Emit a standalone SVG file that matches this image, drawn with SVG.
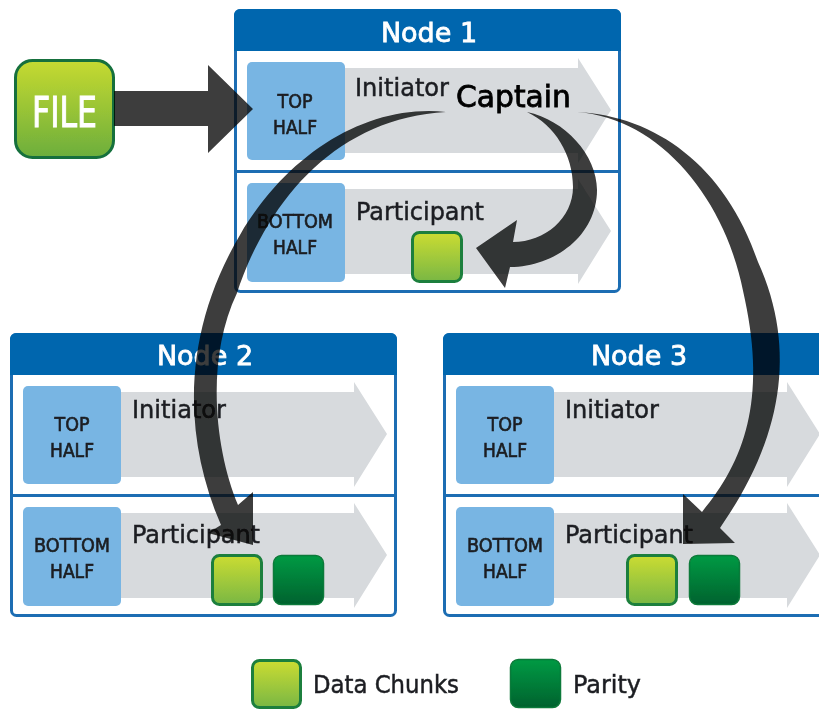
<svg xmlns="http://www.w3.org/2000/svg" width="819" height="709" viewBox="0 0 819 709">
<style>
text{font-family:"DejaVu Sans","Liberation Sans",sans-serif;fill:#1c1f22}
.title{font-size:27px;fill:#fff;stroke:#fff;stroke-width:.8;text-anchor:middle}
.half{font-size:20px;stroke:#1c1f22;stroke-width:.7;text-anchor:middle}
.role{font-size:24px;stroke:#1c1f22;stroke-width:.5}
.frame{fill:#fff;stroke:#1a6db3;stroke-width:3}
.head{fill:#0066ae}
.div{stroke:#1a6db3;stroke-width:3}
.grey{fill:#d7dadd}
.blue{fill:#78b5e3}
.data{fill:url(#gData);stroke:#1a7f3c;stroke-width:3}
.parity{fill:url(#gParity);stroke:#0e7a3a;stroke-width:1.5}
.arc{fill:#3c3c3c;mix-blend-mode:multiply}
</style>
<defs>
<filter id="soft" x="0" y="0" width="100%" height="100%"><feGaussianBlur stdDeviation="0.5"/></filter>
<linearGradient id="gData" x1="0" y1="0" x2="0" y2="1"><stop offset="0" stop-color="#cbdc32"/><stop offset="1" stop-color="#79b744"/></linearGradient>
<linearGradient id="gParity" x1="0" y1="0" x2="0" y2="1"><stop offset="0" stop-color="#009a44"/><stop offset="1" stop-color="#00622e"/></linearGradient>
<linearGradient id="gFile" x1="0" y1="0" x2="0" y2="1"><stop offset="0" stop-color="#c6da30"/><stop offset="1" stop-color="#6cae3c"/></linearGradient>
<g id="shell">
<rect class="frame" x="235.500" y="10.500" width="384" height="281" rx="5"/>
<path class="head" d="M234,51V15a6,6 0 0 1 6,-6H615a6,6 0 0 1 6,6V51Z"/>
<line class="div" x1="235" y1="171.500" x2="620" y2="171.500"/>
<path class="grey" d="M340,68H578V58L611,110L578,163V153H340Z"/>
<path class="grey" d="M340,189H578V179L611,231L578,284V274H340Z"/>
<rect class="blue" x="247" y="62" width="98" height="98" rx="5"/>
<rect class="blue" x="247" y="183" width="98" height="99" rx="5"/>
</g>
</defs>
<g filter="url(#soft)">
<rect width="819" height="709" fill="#fff"/>
<g id="node1">
<use href="#shell"/>
<text class="title" x="429" y="42">Node 1</text>
<text class="half" x="295" y="108" textLength="35" lengthAdjust="spacingAndGlyphs">TOP</text>
<text class="half" x="295" y="134" textLength="44" lengthAdjust="spacingAndGlyphs">HALF</text>
<text class="half" x="295" y="228" textLength="76" lengthAdjust="spacingAndGlyphs">BOTTOM</text>
<text class="half" x="295" y="254" textLength="44" lengthAdjust="spacingAndGlyphs">HALF</text>
<text class="role" x="355" y="96" textLength="94" lengthAdjust="spacingAndGlyphs">Initiator</text>
<text class="role" x="356" y="220" textLength="128" lengthAdjust="spacingAndGlyphs">Participant</text>
<text x="456" y="107" font-size="30" stroke="#000" stroke-width=".8" style="fill:#000" textLength="115" lengthAdjust="spacingAndGlyphs">Captain</text>
<rect class="data" x="412.500" y="232.500" width="49" height="49" rx="7"/>
</g>
<g id="node2" transform="translate(-224 324)">
<use href="#shell"/>
<text class="title" x="429" y="41">Node 2</text>
<text class="half" x="296" y="107" textLength="35" lengthAdjust="spacingAndGlyphs">TOP</text>
<text class="half" x="296" y="133" textLength="44" lengthAdjust="spacingAndGlyphs">HALF</text>
<text class="half" x="296" y="228" textLength="76" lengthAdjust="spacingAndGlyphs">BOTTOM</text>
<text class="half" x="296" y="254" textLength="44" lengthAdjust="spacingAndGlyphs">HALF</text>
<text class="role" x="356" y="94" textLength="94" lengthAdjust="spacingAndGlyphs">Initiator</text>
<text class="role" x="356" y="219" textLength="128" lengthAdjust="spacingAndGlyphs">Participant</text>
<rect class="data" x="436.500" y="231.500" width="49" height="49" rx="7"/>
<rect class="parity" x="497.500" y="231.500" width="50" height="49" rx="8"/>
</g>
<g id="node3" transform="translate(209 324)">
<use href="#shell"/>
<text class="title" x="430" y="41">Node 3</text>
<text class="half" x="296" y="107" textLength="35" lengthAdjust="spacingAndGlyphs">TOP</text>
<text class="half" x="296" y="133" textLength="44" lengthAdjust="spacingAndGlyphs">HALF</text>
<text class="half" x="296" y="228" textLength="76" lengthAdjust="spacingAndGlyphs">BOTTOM</text>
<text class="half" x="296" y="254" textLength="44" lengthAdjust="spacingAndGlyphs">HALF</text>
<text class="role" x="356" y="94" textLength="94" lengthAdjust="spacingAndGlyphs">Initiator</text>
<text class="role" x="356" y="219" textLength="128" lengthAdjust="spacingAndGlyphs">Participant</text>
<rect class="data" x="418.500" y="231.500" width="49" height="49" rx="7"/>
<rect class="parity" x="480.500" y="231.500" width="50" height="49" rx="8"/>
</g>
<g id="file">
<rect x="15.500" y="60.500" width="98" height="97" rx="17" fill="url(#gFile)" stroke="#13703c" stroke-width="3"/>
<text x="32" y="127" font-size="42" style="fill:#fff;stroke:#fff;stroke-width:1" textLength="65" lengthAdjust="spacingAndGlyphs">FILE</text>
</g>
<g id="connectors">
<path class="arc" d="M114,91H208V65L253,109L208,153V126H114Z"/>
<path class="arc" d="M446,112C370,104 290,150 240,235C185,328 180,430 221,525L208,533L253,545L253,492L238,505C215,450 205,360 237,293C270,195 340,118 446,112Z"/>
<path class="arc" d="M527,112C565,120 597,155 597,190C597,235 555,267 510,267L505,288L476,248L517,220L513,242C545,242 573,218 573,187C573,155 555,125 527,112Z"/>
<path class="arc" d="M577,112C655,116 725,165 758,262C798,350 782,440 720,528L735,543L683,544L683,494L702,512C745,460 766,400 745,300C728,200 660,118 577,112Z"/>
</g>
<g id="legend-data">
<rect class="data" x="252.500" y="660.500" width="48" height="47" rx="7"/>
<text class="role" x="313" y="693" textLength="146" lengthAdjust="spacingAndGlyphs">Data Chunks</text>
</g>
<g id="legend-parity">
<rect class="parity" x="510.500" y="659.500" width="50" height="48" rx="8"/>
<text class="role" x="573" y="693" textLength="68" lengthAdjust="spacingAndGlyphs">Parity</text>
</g>
</g>
</svg>
